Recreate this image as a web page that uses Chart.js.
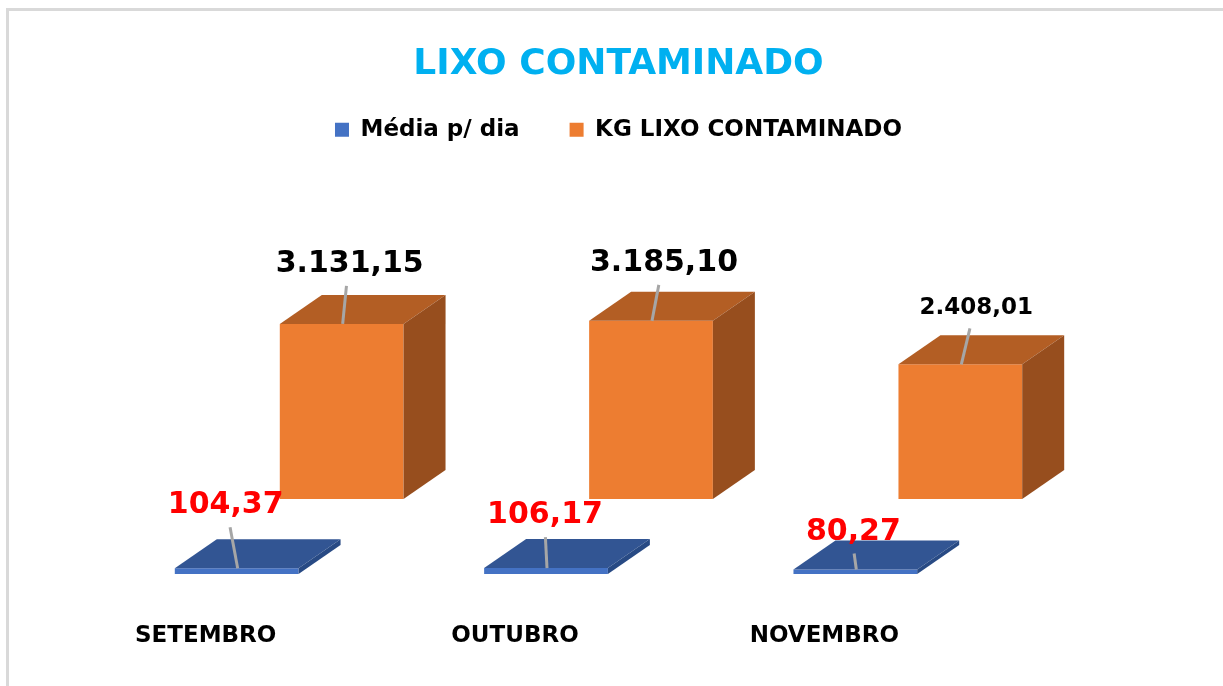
<!DOCTYPE html>
<html>
<head>
<meta charset="utf-8">
<script src="https://cdn.jsdelivr.net/npm/chart.js@4.4.1/dist/chart.umd.min.js"></script>
<style>
  body { margin: 0; background: #fff; }
  #wrap { position: relative; width: 1223px; height: 686px; }
  #frame { position: absolute; left: 6px; top: 8px; right: 0; bottom: 0;
           border-top: 3px solid #d9d9d9; border-left: 3px solid #d9d9d9; }
  canvas { position: absolute; left: 0; top: 0; }
</style>
</head>
<body>
<div id="wrap">
  <div id="frame"></div>
  <canvas id="myChart" width="1223" height="686"></canvas>
</div>
<script>
const ctx = document.getElementById('myChart');

let months    = ['SETEMBRO', 'OUTUBRO', 'NOVEMBRO'];
let mediaDia  = [104.37, 106.17, 80.27];
let kgLixo    = [3131.15, 3185.10, 2408.01];
let mediaText = ['104,37', '106,17', '80,27'];
let kgText    = ['3.131,15', '3.185,10', '2.408,01'];

const FONT = 'DejaVu Sans';
const depth = { dx: 42, dy: -29 };          // 3d depth of every box
const backRow = { dx: 105, dy: -75 };       // orange series sits one row behind

// how Excel left the labels (lift above bar top / sideways shift)
const labelLift  = [[55, 45, 30], [52, 50, 50]];
const labelShift = [[-11, -1, -2], [8, 13, 16]];
const labelSize  = [[30, 30, 30], [30, 30, 23]];

const box3d = {
  id: 'box3d',
  beforeDatasetDraw(chart, args) {
    chart.ctx.save();
    if (args.index === 1) chart.ctx.translate(backRow.dx, backRow.dy);
  },
  afterDatasetDraw(chart, args) {
    const c = chart.ctx;
    const ds = chart.data.datasets[args.index];
    args.meta.data.forEach(bar => {
      const { x, y, base, width } = bar.getProps(['x', 'y', 'base', 'width'], true);
      const l = x - width / 2, r = x + width / 2;
      c.fillStyle = ds.topColor;
      c.beginPath();
      c.moveTo(l, y); c.lineTo(l + depth.dx, y + depth.dy);
      c.lineTo(r + depth.dx, y + depth.dy); c.lineTo(r, y);
      c.closePath(); c.fill();
      c.fillStyle = ds.sideColor;
      c.beginPath();
      c.moveTo(r, y); c.lineTo(r + depth.dx, y + depth.dy);
      c.lineTo(r + depth.dx, base + depth.dy); c.lineTo(r, base);
      c.closePath(); c.fill();
    });
    c.restore();
  },
  afterDatasetsDraw(chart) {
    const c = chart.ctx;
    chart.data.datasets.forEach((ds, di) => {
      const meta = chart.getDatasetMeta(di);
      const off = di === 1 ? backRow : { dx: 0, dy: 0 };
      meta.data.forEach((bar, i) => {
        const ax = bar.x + off.dx, ay = bar.y + off.dy;
        const lift = labelLift[di][i], shift = labelShift[di][i];
        c.save();
        c.strokeStyle = '#a6a6a6';
        c.lineWidth = 3;
        c.beginPath();
        c.moveTo(ax + 1, ay);
        c.lineTo(ax + shift * 0.6, ay - lift + 14);
        c.stroke();
        c.fillStyle = ds.labelColor;
        c.font = 'bold ' + labelSize[di][i] + 'px "' + FONT + '"';
        c.textAlign = 'center';
        c.textBaseline = 'alphabetic';
        c.fillText(ds.texts[i], ax + shift, ay - lift);
        c.restore();
      });
    });
  }
};

new Chart(ctx, {
  type: 'bar',
  data: {
    labels: months,
    datasets: [{
      label: 'Média p/ dia',
      data: mediaDia,
      texts: mediaText,
      backgroundColor: '#4472c4',
      topColor: '#325593',
      sideColor: '#284a84',
      labelColor: '#ff0000',
      borderWidth: 0,
      clip: false
    }, {
      label: 'KG LIXO CONTAMINADO',
      data: kgLixo,
      texts: kgText,
      backgroundColor: '#ed7d31',
      topColor: '#b35e24',
      sideColor: '#974e1e',
      labelColor: '#000000',
      borderWidth: 0,
      clip: false
    }]
  },
  options: {
    responsive: false,
    animation: false,
    layout: { padding: { top: 0, bottom: 36, left: 14 } },
    datasets: { bar: { grouped: false, categoryPercentage: 1, barPercentage: 0.4 } },
    plugins: {
      title: {
        display: true,
        text: 'LIXO CONTAMINADO',
        color: '#00b0f0',
        font: { family: FONT, size: 36, weight: 'bold' },
        padding: { top: 43, bottom: -18 }
      },
      legend: {
        labels: {
          color: '#000',
          font: { family: FONT, size: 23, weight: 'bold' },
          boxWidth: 14,
          boxHeight: 14,
          padding: 50
        }
      },
      tooltip: { enabled: false }
    },
    scales: {
      x: {
        grid: { display: false, drawTicks: false },
        border: { display: false },
        ticks: {
          color: '#000',
          font: { family: FONT, size: 23, weight: 'bold' },
          padding: 48,
          labelOffset: -31
        },
        afterFit(scale) { scale.height = 76; }
      },
      y: {
        min: 0,
        max: 7560,
        grid: { display: false, drawTicks: false },
        border: { display: false },
        ticks: { display: false },
        afterFit(scale) { scale.width = 68; }
      },
      yRight: {
        position: 'right',
        grid: { display: false, drawTicks: false },
        border: { display: false },
        ticks: { display: false },
        afterFit(scale) { scale.width = 213; }
      }
    }
  },
  plugins: [box3d]
});
</script>
</body>
</html>
